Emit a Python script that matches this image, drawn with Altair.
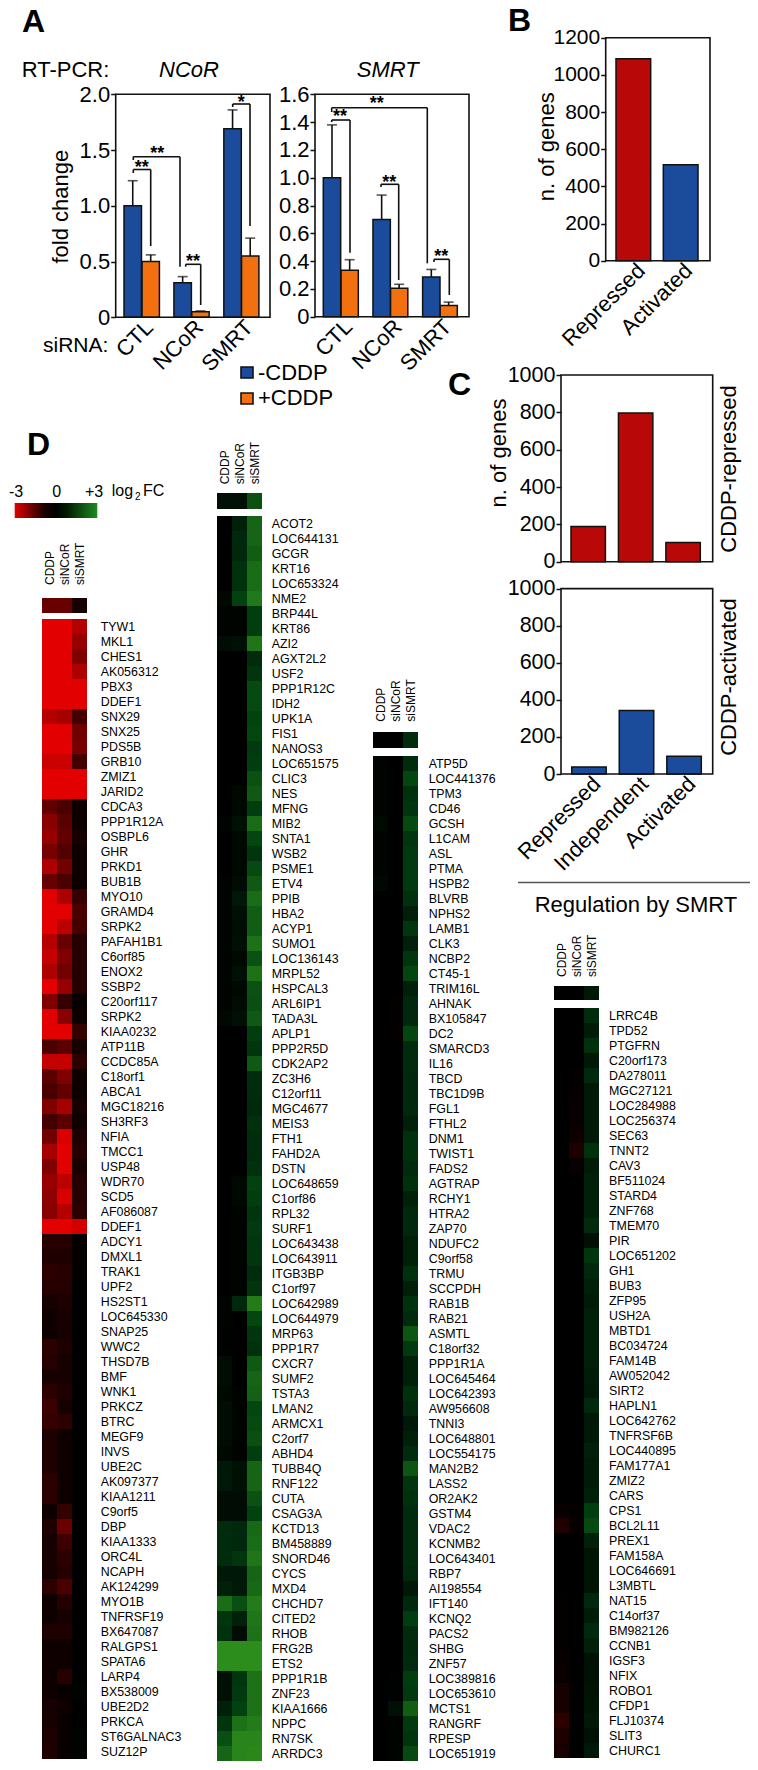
import altair as alt
import pandas as pd

FONT = "Liberation Sans"
INK = "#111111"
BLUE = "#1b4c9c"
ORANGE = "#f2700f"
RED = "#b80808"
CANVAS_H = 1754

GROUPS_A = ["CTL", "NCoR", "SMRT"]
NCOR_MINUS = [1.0, 0.31, 1.69]
NCOR_MINUS_ERR = [1.225, 0.365, 1.86]
NCOR_PLUS = [0.5, 0.05, 0.55]
NCOR_PLUS_ERR = [0.56, 0.057, 0.71]
SMRT_MINUS = [1.0, 0.70, 0.285]
SMRT_MINUS_ERR = [1.38, 0.875, 0.34]
SMRT_PLUS = [0.335, 0.205, 0.08]
SMRT_PLUS_ERR = [0.41, 0.233, 0.105]

GROUPS_B = ["Repressed", "Activated"]
B_VALUES = [1087, 516]
GROUPS_C = ["Repressed", "Independent", "Activated"]
C_REPRESSED = [189, 797, 103]
C_ACTIVATED = [38, 342, 96]

COLUMNS = ["CDDP", "siNCoR", "siSMRT"]

D1_HEAD = [-1.4, -1.4, -0.3]
D1_GENES = ["TYW1","MKL1","CHES1","AK056312","PBX3","DDEF1","SNX29","SNX25","PDS5B","GRB10","ZMIZ1","JARID2","CDCA3","PPP1R12A","OSBPL6","GHR","PRKD1","BUB1B","MYO10","GRAMD4","SRPK2","PAFAH1B1","C6orf85","ENOX2","SSBP2","C20orf117","SRPK2","KIAA0232","ATP11B","CCDC85A","C18orf1","ABCA1","MGC18216","SH3RF3","NFIA","TMCC1","USP48","WDR70","SCD5","AF086087","DDEF1","ADCY1","DMXL1","TRAK1","UPF2","HS2ST1","LOC645330","SNAP25","WWC2","THSD7B","BMF","WNK1","PRKCZ","BTRC","MEGF9","INVS","UBE2C","AK097377","KIAA1211","C9orf5","DBP","KIAA1333","ORC4L","NCAPH","AK124299","MYO1B","TNFRSF19","BX647087","RALGPS1","SPATA6","LARP4","BX538009","UBE2D2","PRKCA","ST6GALNAC3","SUZ12P"]
D1_A = [-3,-3,-3,-3,-3,-3,-2.4,-3,-3,-2.7,-3,-3,-1.3,-1.8,-2.0,-1.6,-2.3,-1.4,-3,-3,-3,-2.4,-2.6,-2.3,-3,-1.7,-3,-3,-1.0,-2.6,-1.2,-1.0,-1.7,-0.9,-1.5,-2.2,-1.7,-2.0,-1.9,-1.8,-3,-0.5,-0.4,-0.6,-0.5,-0.3,-0.2,-0.2,-0.6,-0.5,-0.3,-0.6,-0.8,-0.7,-0.4,-0.4,-0.4,-0.6,-0.6,-0.2,-0.4,-0.3,-0.3,-0.3,-0.6,-0.2,-0.2,-0.4,-0.2,-0.2,-0.2,-0.2,-0.3,-0.3,-0.4,-0.4]
D1_B = [-3,-3,-3,-3,-3,-3,-2.2,-3,-3,-2.7,-3,-3,-1.0,-1.2,-1.3,-1.1,-1.5,-1.0,-2.3,-3,-2.5,-1.4,-1.7,-1.5,-2.0,-0.7,-1.8,-3,-1.2,-2.6,-1.7,-1.3,-2.2,-1.2,-2.9,-3,-3,-2.5,-2.9,-2.4,-3,-0.5,-0.4,-0.5,-0.5,-0.4,-0.3,-0.3,-0.4,-0.3,-0.3,-0.4,-0.3,-0.6,-0.2,-0.2,-0.2,-0.2,-0.2,-0.7,-1.4,-0.8,-0.6,-0.5,-1.0,-0.5,-0.3,-0.4,-0.2,-0.2,-0.5,-0.1,-0.2,-0.1,-0.1,-0.1]
D1_C = [-2.4,-2.0,-1.7,-2.3,-3,-3,-0.9,-1.5,-1.6,-0.9,-3,-3,-0.2,-0.2,-0.3,-0.2,-0.2,-0.2,-0.7,-1.0,-0.9,-0.5,-0.5,-0.5,-0.5,-0.1,-0.2,-0.7,-0.3,-0.6,-0.2,-0.2,-0.3,-0.2,-0.4,-0.5,-0.3,-0.5,-0.5,-0.6,-2.8,-0.05,-0.05,-0.05,0,0,0,0,0,0,0,0,0,0,0,0,0,0,0,0,0,0,0,0,0,0,0,0,0,0,0,0.05,0,0,0.05,0.05]

D2_HEAD = [0.2, 0.2, 1.5]
D2_GENES = ["ACOT2","LOC644131","GCGR","KRT16","LOC653324","NME2","BRP44L","KRT86","AZI2","AGXT2L2","USF2","PPP1R12C","IDH2","UPK1A","FIS1","NANOS3","LOC651575","CLIC3","NES","MFNG","MIB2","SNTA1","WSB2","PSME1","ETV4","PPIB","HBA2","ACYP1","SUMO1","LOC136143","MRPL52","HSPCAL3","ARL6IP1","TADA3L","APLP1","PPP2R5D","CDK2AP2","ZC3H6","C12orf11","MGC4677","MEIS3","FTH1","FAHD2A","DSTN","LOC648659","C1orf86","RPL32","SURF1","LOC643438","LOC643911","ITGB3BP","C1orf97","LOC642989","LOC644979","MRP63","PPP1R7","CXCR7","SUMF2","TSTA3","LMAN2","ARMCX1","C2orf7","ABHD4","TUBB4Q","RNF122","CUTA","CSAG3A","KCTD13","BM458889","SNORD46","CYCS","MXD4","CHCHD7","CITED2","RHOB","FRG2B","ETS2","PPP1R1B","ZNF23","KIAA1666","NPPC","RN7SK","ARRDC3"]
D2_A = [0,0,0,0,0,0.1,0.05,0.05,0.15,0,0,0,0,0,0,0,0,0,0,0,0.05,0,0,0,0.05,0.05,0.05,0.05,0.05,0.05,0.05,0.05,0.05,0.1,0,0,0,0,0,0,0,0,0,0,0,0,0,0,0,0,0,0,0.05,0.05,0.02,0.02,0.15,0.15,0.1,0.15,0.15,0.15,0.1,0.3,0.3,0.15,0.15,0.6,0.6,0.6,0.3,0.4,2.2,0.8,0.7,3,3,0.2,0.2,0.4,0.8,1.4,2.0]
D2_B = [0.4,0.5,0.5,0.7,0.7,1.1,0.05,0.05,0.2,0,0,0,0,0,0,0,0,0,0.1,0.1,0.2,0.1,0.1,0.1,0.15,0.3,0.2,0.15,0.2,0.1,0.2,0.1,0.15,0.2,0,0,0,0,0,0,0,0,0,0,0.1,0.1,0.05,0.05,0.05,0.05,0.05,0.05,0.5,0,0,0,0,0,0.05,0.05,0.05,0.05,0.05,0.2,0.2,0.15,0.15,0.5,0.5,0.8,0.3,0.3,1.4,0.4,0.15,3,3,0.8,0.9,1.1,2.3,2.8,2.8]
D2_C = [2.0,2.0,1.8,2.2,2.2,2.5,1.0,1.0,2.4,0.6,0.8,1.3,1.3,1.1,1.2,0.9,1.0,1.5,1.7,1.0,2.2,1.2,0.8,1.3,1.7,2.2,1.8,1.8,2.3,1.5,2.3,1.5,1.4,1.7,1.0,0.8,1.7,0.6,0.6,0.5,0.7,0.6,0.6,0.7,1.1,1.0,0.8,0.9,0.8,0.8,0.6,0.8,2.6,1.2,0.8,0.7,1.7,2.0,1.9,1.2,1.3,1.4,1.0,2.0,2.0,1.5,1.1,2.1,2.2,2.4,2.0,2.1,2.6,2.4,2.3,3,3,2.3,2.3,2.3,2.6,2.8,2.9]

D3_HEAD = [0, 0, 0.6]
D3_GENES = ["ATP5D","LOC441376","TPM3","CD46","GCSH","L1CAM","ASL","PTMA","HSPB2","BLVRB","NPHS2","LAMB1","CLK3","NCBP2","CT45-1","TRIM16L","AHNAK","BX105847","DC2","SMARCD3","IL16","TBCD","TBC1D9B","FGL1","FTHL2","DNM1","TWIST1","FADS2","AGTRAP","RCHY1","HTRA2","ZAP70","NDUFC2","C9orf58","TRMU","SCCPDH","RAB1B","RAB21","ASMTL","C18orf32","PPP1R1A","LOC645464","LOC642393","AW956608","TNNI3","LOC648801","LOC554175","MAN2B2","LASS2","OR2AK2","GSTM4","VDAC2","KCNMB2","LOC643401","RBP7","AI198554","IFT140","KCNQ2","PACS2","SHBG","ZNF57","LOC389816","LOC653610","MCTS1","RANGRF","RPESP","LOC651919"]
D3_A = [0.05,0.05,0.05,0.05,0.1,0.05,0.05,0.05,0.1] + [0]*58
D3_B = [0]*16 + [-0.05,-0.03,-0.05] + [0]*42 + [0.03,0.03,0.2,0.05,0.05,0.05]
D3_C = [0.6,1.2,0.7,0.8,1.3,0.8,0.9,0.9,0.9,0.7,0.4,0.8,0.4,0.8,1.2,0.4,0.5,0.5,1.2,0.6,0.6,0.5,0.5,0.5,0.4,0.7,0.7,0.6,0.7,0.4,0.5,0.5,0.4,0.4,0.7,0.4,0.7,0.6,1.6,0.9,0.4,0.4,0.7,0.5,0.3,0.4,0.6,1.6,0.8,0.7,0.6,0.6,0.6,0.6,0.5,0.3,0.5,1.0,0.6,0.5,0.6,1.0,0.9,1.8,0.9,0.8,1.3]

D4_HEAD = [0, 0, 0.3]
D4_GENES = ["LRRC4B","TPD52","PTGFRN","C20orf173","DA278011","MGC27121","LOC284988","LOC256374","SEC63","TNNT2","CAV3","BF511024","STARD4","ZNF768","TMEM70","PIR","LOC651202","GH1","BUB3","ZFP95","USH2A","MBTD1","BC034724","FAM14B","AW052042","SIRT2","HAPLN1","LOC642762","TNFRSF6B","LOC440895","FAM177A1","ZMIZ2","CARS","CPS1","BCL2L11","PREX1","FAM158A","LOC646691","L3MBTL","NAT15","C14orf37","BM982126","CCNB1","IGSF3","NFIX","ROBO1","CFDP1","FLJ10374","SLIT3","CHURC1"]
D4_A = [0]*33 + [-0.1,-0.4,0,0,0,0,-0.05,-0.05,-0.05,-0.05,-0.1,-0.1,-0.3,-0.3,-0.6,-0.4,-0.3]
D4_B = [0,0,0,0,-0.05,-0.05,-0.1,-0.1,-0.2,-0.4,-0.1] + [0]*22 + [-0.05,-0.1] + [0]*15
D4_C = [0.6,0.35,0.7,0.3,0.5,0.3,0.3,0.3,0.3,0.7,0.35,0.4,0.4,0.4,0.6,0.2,0.8,0.5,0.4,0.35,0.4,0.4,0.4,0.4,0.35,0.3,0.5,0.3,0.3,0.4,0.35,0.35,0.4,1.0,1.3,0.4,0.25,0.25,0.25,0.5,0.35,0.5,0.4,0.2,0.2,0.25,0.25,0.3,0.2,0.3]

HEAT = alt.Scale(domain=[-3, 0, 0.5, 1, 3],
                 range=["#e20000", "#000000", "#00280c", "#003e0f", "#2c8c1c"], interpolate="rgb")


def note(text, x, y, size=22, align="left", angle=0, weight="normal", style="normal"):
    return alt.Chart(pd.DataFrame({"t": [text]})).mark_text(
        font=FONT, fontSize=size, align=align, baseline="middle", angle=angle,
        fontWeight=weight, fontStyle=style, color="black",
    ).encode(x=alt.value(x - 8), y=alt.value(y - 8), text="t:N")


def seg(x1, y1, x2, y2, color=INK, width=1.6):
    return alt.Chart(pd.DataFrame({"a": [0]})).mark_rule(color=color, strokeWidth=width).encode(
        x=alt.value(x1 - 8), x2=alt.value(x2 - 8), y=alt.value(y1 - 8), y2=alt.value(y2 - 8))


def box(x1, y1, x2, y2, fill=None, stroke=INK, width=1.6):
    kw = {"fill": fill} if fill is not None else {"fillOpacity": 0}
    return alt.Chart(pd.DataFrame({"a": [0]})).mark_rect(stroke=stroke, strokeWidth=width, **kw).encode(
        x=alt.value(x1 - 8), x2=alt.value(x2 - 8), y=alt.value(y1 - 8), y2=alt.value(y2 - 8))


def yaxis(x, values, fmt, size=22):
    expr = "datum.value == 0 ? '0' : format(datum.value, '%s')" % fmt
    return alt.Axis(orient="left", offset=-(x - 8), values=values, labelExpr=expr, title=None, grid=False,
                    domain=False, tickSize=5, tickWidth=1.5, tickColor=INK, labelFont=FONT,
                    labelFontSize=size, labelColor="black", labelPadding=1, labelOverlap=False)


def xlabels(groups, r0, r1, inner, y, size=22, shift=8):
    df = pd.DataFrame({"g": groups})
    return alt.Chart(df).mark_rule(opacity=0).encode(
        x=alt.X("g:N", scale=alt.Scale(type="band", domain=groups, range=[r0 - 8 + shift, r1 - 8 + shift],
                                       paddingInner=inner, paddingOuter=0),
                axis=alt.Axis(orient="bottom", offset=-(CANVAS_H - (y - 8)), title=None, grid=False, domain=False,
                              ticks=False, labelAngle=-45, labelAlign="right", labelBaseline="middle",
                              labelFont=FONT, labelFontSize=size, labelColor="black", labelPadding=6,
                              labelOverlap=False, labelLimit=300)))


def bars(groups, values, color, r0, r1, inner, top, bottom, dmax, axis=None, errs=None, cap=10):
    df = pd.DataFrame({"g": groups, "v": values})
    xs = alt.Scale(type="band", domain=groups, range=[r0 - 8, r1 - 8], paddingInner=inner, paddingOuter=0)
    ys = alt.Scale(domain=[0, dmax], range=[bottom - 8, top - 8], nice=False, zero=True)
    out = []
    if errs is not None:
        df["e"] = errs
        base = alt.Chart(df)
        out.append(base.mark_rule(color=INK, strokeWidth=1.6).encode(
            x=alt.X("g:N", scale=xs, axis=None), y=alt.Y("v:Q", scale=ys, axis=None), y2="e:Q"))
        out.append(base.mark_tick(color=INK, size=cap, thickness=1.6, orient="horizontal").encode(
            x=alt.X("g:N", scale=xs, axis=None), y=alt.Y("e:Q", scale=ys, axis=None)))
    out.append(alt.Chart(df).mark_bar(color=color, stroke=INK, strokeWidth=1.5).encode(
        x=alt.X("g:N", scale=xs, axis=None),
        y=alt.Y("v:Q", scale=ys, axis=axis if axis is not None else None)))
    return out


def coloured_bars(df, groups, r0, r1, inner, top, bottom, dmax, axis):
    return alt.Chart(df).mark_bar(stroke=INK, strokeWidth=1.5).encode(
        x=alt.X("g:N", scale=alt.Scale(type="band", domain=groups, range=[r0 - 8, r1 - 8], paddingInner=inner, paddingOuter=0), axis=None),
        y=alt.Y("v:Q", scale=alt.Scale(domain=[0, dmax], range=[bottom - 8, top - 8], nice=False), axis=axis),
        fill=alt.Fill("c:N", scale=None))


def heatmap(genes, a, b, c, head, x0, x1, top, bottom, head_top, head_bottom, label_x, title_bottom):
    rows = list(range(len(genes)))
    xs = alt.Scale(type="band", domain=COLUMNS, range=[x0 - 8, x1 - 8], paddingInner=0, paddingOuter=0)
    ys = alt.Scale(type="band", domain=rows, range=[top - 8, bottom - 8], paddingInner=0, paddingOuter=0)
    cells = pd.DataFrame({"r": rows * 3, "col": sum([[k] * len(rows) for k in COLUMNS], []), "v": list(a) + list(b) + list(c)})
    labels = pd.DataFrame({"r": rows, "gene": genes})
    heads = pd.DataFrame({"col": COLUMNS, "v": head})
    return [
        alt.Chart(cells).mark_rect().encode(
            x=alt.X("col:N", scale=xs, axis=None),
            y=alt.Y("r:O", scale=ys, axis=None),
            color=alt.Color("v:Q", scale=HEAT, legend=None)),
        alt.Chart(labels).mark_text(font=FONT, fontSize=12.4, align="left", baseline="middle", color="black").encode(
            x=alt.value(label_x - 8),
            y=alt.Y("r:O", scale=ys, axis=None),
            text="gene:N"),
        alt.Chart(heads).mark_rect().encode(
            x=alt.X("col:N", scale=xs, axis=None),
            y=alt.value(head_top - 8), y2=alt.value(head_bottom - 8),
            color=alt.Color("v:Q", scale=HEAT, legend=None)),
        alt.Chart(heads).mark_text(font=FONT, fontSize=12, align="left", baseline="middle", angle=270, color="black").encode(
            x=alt.X("col:N", scale=xs, axis=None),
            y=alt.value(title_bottom - 8),
            text="col:N"),
    ]


layers = []

# Panel A, NCoR
layers += bars(GROUPS_A, NCOR_PLUS, ORANGE, 142, 258.9, 0.65, 94.3, 317.3, 2.0, errs=NCOR_PLUS_ERR)
layers += bars(GROUPS_A, NCOR_MINUS, BLUE, 124, 241.3, 0.65, 94.3, 317.3, 2.0,
               axis=yaxis(115.7, [0, 0.5, 1.0, 1.5, 2.0], ".1f"), errs=NCOR_MINUS_ERR)
layers.append(box(115.7, 94.3, 270, 317.3))
layers.append(xlabels(GROUPS_A, 124, 258.9, 0.3, 317.3))

# Panel A, SMRT
layers += bars(GROUPS_A, SMRT_PLUS, ORANGE, 341, 457.3, 0.65, 94.3, 316.7, 1.6, errs=SMRT_PLUS_ERR)
layers += bars(GROUPS_A, SMRT_MINUS, BLUE, 323.3, 440, 0.65, 94.3, 316.7, 1.6,
               axis=yaxis(315, [0, 0.2, 0.4, 0.6, 0.8, 1.0, 1.2, 1.4, 1.6], ".1f"), errs=SMRT_MINUS_ERR)
layers.append(box(315, 94.3, 469, 316.7))
layers.append(xlabels(GROUPS_A, 323.3, 457.3, 0.3, 316.7))

# significance brackets: left x, left y, top y, right x, right y
BRACKETS = [
    (133.3, 173, 169.5, 150.7, 246),
    (133.3, 160, 156.7, 180, 266.7),
    (185.7, 266.7, 264.3, 200.7, 305),
    (232.7, 107, 104, 250, 226),
    (331.7, 122, 120, 350, 252.7),
    (331.7, 112, 107.7, 427.3, 263.3),
    (381, 187, 184.3, 398.7, 280),
    (434, 262, 259.3, 449.3, 295),
]
for xa, ya, ytop, xb, yb in BRACKETS:
    layers += [seg(xa, ya, xa, ytop), seg(xa, ytop, xb, ytop), seg(xb, ytop, xb, yb)]
STARS = [("**", 141.7, 168), ("**", 157.3, 154), ("**", 193, 262), ("*", 241.3, 103),
         ("**", 340, 117), ("**", 376.7, 104), ("**", 389.3, 183), ("**", 441.3, 257)]
for s, x, y in STARS:
    layers.append(note(s, x, y, size=18, align="center", weight="bold"))

layers += [
    note("A", 22, 22, size=32, weight="bold"),
    note("RT-PCR:", 21.7, 70),
    note("NCoR", 189, 70, align="center", style="italic"),
    note("SMRT", 387.7, 70, align="center", style="italic"),
    note("fold change", 61, 206.7, align="center", angle=270),
    note("siRNA:", 43, 345.7, size=21),
    box(241, 367, 253, 378, fill=BLUE),
    box(241, 393, 253, 404, fill=ORANGE),
    note("-CDDP", 258, 373),
    note("+CDDP", 258, 398),
]

# Panel B
df_b = pd.DataFrame({"g": GROUPS_B, "v": B_VALUES, "c": [RED, BLUE]})
layers.append(coloured_bars(df_b, GROUPS_B, 616, 698, 0.267, 37.7, 260.7, 1200,
                            yaxis(605.7, [0, 200, 400, 600, 800, 1000, 1200], "d", size=21)))
layers.append(box(605.7, 37.7, 710, 260.7))
layers.append(xlabels(GROUPS_B, 616, 698, 0.267, 260.7))
layers += [note("B", 508, 21, size=32, weight="bold"),
           note("n. of genes", 547, 146.7, align="center", angle=270)]

# Panel C
layers += bars(GROUPS_C, C_REPRESSED, RED, 571, 700.3, 0.275, 375, 561.8, 1000,
               axis=yaxis(561, [0, 200, 400, 600, 800, 1000], "d", size=21.5))
layers.append(box(561, 375, 712.7, 561.8))
layers += bars(GROUPS_C, C_ACTIVATED, BLUE, 571.7, 701.3, 0.275, 588.6, 774, 1000,
               axis=yaxis(561, [0, 200, 400, 600, 800, 1000], "d", size=21.5))
layers.append(box(561, 588.6, 712.7, 774))
layers.append(xlabels(GROUPS_C, 571.7, 701.3, 0.275, 774))
layers += [
    note("C", 448, 385, size=32, weight="bold"),
    note("n. of genes", 499, 453, align="center", angle=270),
    note("CDDP-repressed", 729, 469, align="center", angle=270),
    note("CDDP-activated", 729, 677, align="center", angle=270),
    seg(518, 882.5, 752, 882.5, color="#555555", width=1.5),
    note("Regulation by SMRT", 636, 904.6, align="center"),
]

# Panel D
layers += heatmap(D1_GENES, D1_A, D1_B, D1_C, D1_HEAD, 42, 87, 619, 1759, 598, 613, 100.7, 585)
layers += heatmap(D2_GENES, D2_A, D2_B, D2_C, D2_HEAD, 217, 262, 516, 1761, 493, 509, 271.7, 484.3)
layers += heatmap(D3_GENES, D3_A, D3_B, D3_C, D3_HEAD, 373, 418, 756, 1761, 732, 748, 428.7, 721.7)
layers += heatmap(D4_GENES, D4_A, D4_B, D4_C, D4_HEAD, 554, 599, 1008, 1758, 986, 1000, 609, 977)

GRADIENT = alt.LinearGradient(gradient="linear", x1=0, x2=1, y1=0, y2=0, stops=[
    alt.GradientStop(offset=0, color="#e20000"),
    alt.GradientStop(offset=0.35, color="#200000"),
    alt.GradientStop(offset=0.5, color="#000000"),
    alt.GradientStop(offset=0.63, color="#001a00"),
    alt.GradientStop(offset=1, color="#1f8a22"),
])
layers.append(alt.Chart(pd.DataFrame({"a": [0]})).mark_rect(fill=GRADIENT).encode(
    x=alt.value(14.7 - 8), x2=alt.value(97.3 - 8), y=alt.value(503 - 8), y2=alt.value(518 - 8)))
layers += [
    note("D", 27, 445, size=32, weight="bold"),
    note("-3", 16, 492, size=16, align="center"),
    note("0", 56.7, 492, size=16, align="center"),
    note("+3", 94, 492, size=16, align="center"),
    note("log", 111.7, 491, size=16),
    note("2", 135, 497, size=10),
    note("FC", 143, 491, size=16),
]

chart = alt.layer(*layers).resolve_scale(x="independent", y="independent").properties(
    width=742, height=CANVAS_H, padding=0, autosize=alt.AutoSizeParams(type="none"),
    background="white",
).configure_view(strokeWidth=0)

chart.save("out.html", embed_options={"renderer": "svg", "actions": False})
